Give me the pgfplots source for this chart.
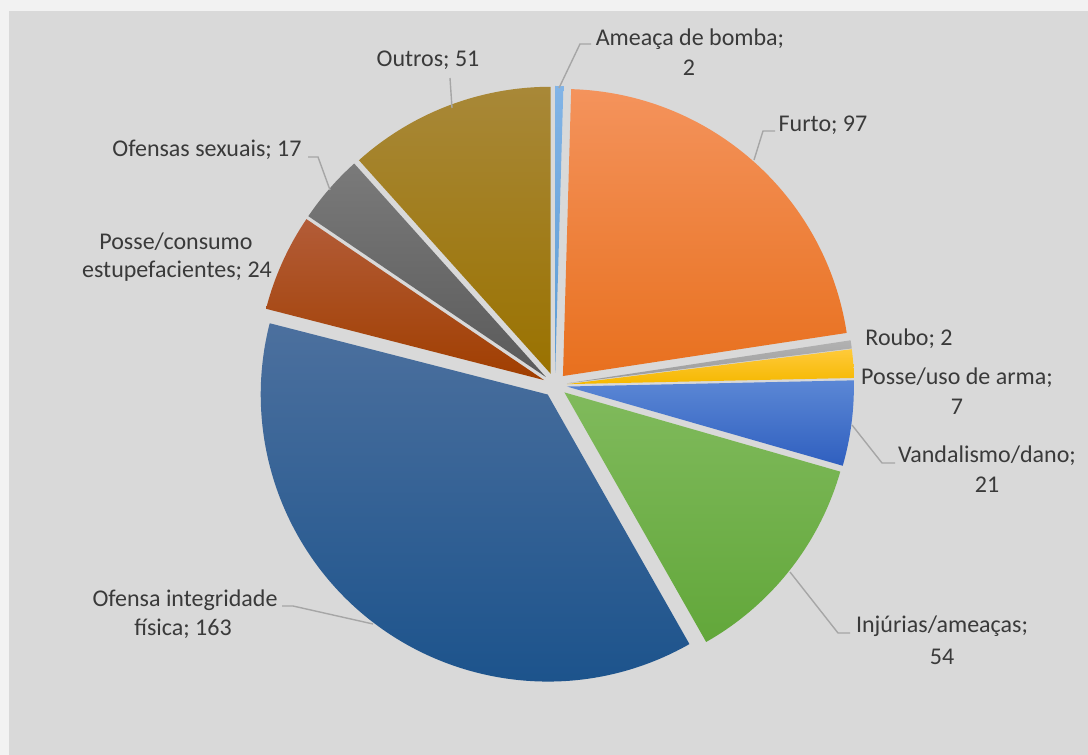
\documentclass[border=0pt]{standalone}
\usepackage{pgfplots}
\usepackage{pgfplotstable}
\pgfplotsset{compat=1.18}
\usepackage{fontspec}
\setmainfont{Carlito}

\definecolor{bgouter}{HTML}{F2F2F2}
\definecolor{bginner}{HTML}{D9D9D9}
\definecolor{txt}{HTML}{3A3A3A}
\definecolor{lead}{HTML}{A6A6A6}
% slice colours (top / bottom of gradient)
\definecolor{c0t}{HTML}{82B4E6}\definecolor{c0b}{HTML}{5B9BD5}
\definecolor{c1t}{HTML}{F4935C}\definecolor{c1b}{HTML}{E8701E}
\definecolor{c2t}{HTML}{B2B2B2}\definecolor{c2b}{HTML}{9A9A9A}
\definecolor{c3t}{HTML}{FFCA3A}\definecolor{c3b}{HTML}{F5B800}
\definecolor{c4t}{HTML}{5B87D5}\definecolor{c4b}{HTML}{2F5FBF}
\definecolor{c5t}{HTML}{80BA5C}\definecolor{c5b}{HTML}{62A73A}
\definecolor{c6t}{HTML}{4C709E}\definecolor{c6b}{HTML}{17508A}
\definecolor{c7t}{HTML}{B35C38}\definecolor{c7b}{HTML}{A03E00}
\definecolor{c8t}{HTML}{7A7A7A}\definecolor{c8b}{HTML}{5A5A5A}
\definecolor{c9t}{HTML}{A88838}\definecolor{c9b}{HTML}{9A7200}

\newcommand{\lblfont}{\fontsize{12}{14}\selectfont}
\tikzset{lbl/.style={font=\lblfont, text=txt, inner sep=0pt, anchor=base}}

\pgfplotstableread{
name value
bomba 2
furto 97
roubo 2
arma 7
vandalismo 21
injurias 54
ofensa 163
consumo 24
sexuais 17
outros 51
}\piedata

\begin{document}
\begin{tikzpicture}
\begin{axis}[hide axis, scale only axis, width=544pt, height=377.5pt,
  xmin=0, xmax=1088, ymin=0, ymax=755, clip=false]
\fill[bgouter] (axis cs:0,0) rectangle (axis cs:1088,755);
\fill[bginner] (axis cs:9,0) rectangle (axis cs:1088,744);
\def\cum{0}
\def\total{438}
\pgfplotsforeachungrouped \i in {0,...,9}{%
  \pgfplotstablegetelem{\i}{value}\of\piedata
  \let\v\pgfplotsretval
  \pgfmathsetmacro{\astart}{90-\cum/\total*360}%
  \pgfmathsetmacro{\cumnew}{\cum+\v}%
  \let\cum\cumnew
  \pgfmathsetmacro{\aend}{90-\cum/\total*360}%
  \pgfmathsetmacro{\amid}{(\astart+\aend)/2}%
  \pgfmathsetmacro{\cx}{555+12*cos(\amid)}%
  \pgfmathsetmacro{\cy}{370+12*sin(\amid)}%
  \pgfmathsetmacro{\px}{\cx+287*cos(\astart)}%
  \pgfmathsetmacro{\py}{\cy+287*sin(\astart)}%
  \edef\cmd{\noexpand\shade[top color=c\i t, bottom color=c\i b] (axis cs:\cx,\cy) -- (axis cs:\px,\py) arc[start angle=\astart, end angle=\aend, radius=143.5pt] -- cycle;}%
  \cmd
}
% leader lines
\draw[lead, line width=0.7pt] (axis cs:559,667) -- (axis cs:580,711) -- (axis cs:591,711);
\draw[lead, line width=0.7pt] (axis cs:754,595) -- (axis cs:763,624) -- (axis cs:775,624);
\draw[lead, line width=0.7pt] (axis cs:852,330) -- (axis cs:882,292) -- (axis cs:895,292);
\draw[lead, line width=0.7pt] (axis cs:790,183) -- (axis cs:838,122) -- (axis cs:850,122);
\draw[lead, line width=0.7pt] (axis cs:373,131) -- (axis cs:293,149) -- (axis cs:282,149);
\draw[lead, line width=0.7pt] (axis cs:330,565) -- (axis cs:318,598) -- (axis cs:308,598);
\draw[lead, line width=0.7pt] (axis cs:452,647) -- (axis cs:450,677);
% labels
\node[lbl] at (axis cs:690,709.5) {Ameaça de bomba;};
\node[lbl] at (axis cs:689,679.5) {2};
\node[lbl] at (axis cs:428,688) {Outros; 51};
\node[lbl] at (axis cs:823,623.5) {Furto; 97};
\node[lbl] at (axis cs:207,598) {Ofensas sexuais; 17};
\node[lbl] at (axis cs:176,505.5) {Posse/consumo};
\node[lbl] at (axis cs:177,477.5) {estupefacientes; 24};
\node[lbl] at (axis cs:909,409.5) {Roubo; 2};
\node[lbl] at (axis cs:957,370.5) {Posse/uso de arma;};
\node[lbl] at (axis cs:957,340.5) {7};
\node[lbl] at (axis cs:987,292.5) {Vandalismo/dano;};
\node[lbl] at (axis cs:987,262.5) {21};
\node[lbl] at (axis cs:942,122.5) {Injúrias/ameaças;};
\node[lbl] at (axis cs:942,90.5) {54};
\node[lbl] at (axis cs:185,148.5) {Ofensa integridade};
\node[lbl] at (axis cs:183,119.5) {física; 163};
\end{axis}
\end{tikzpicture}
\end{document}
